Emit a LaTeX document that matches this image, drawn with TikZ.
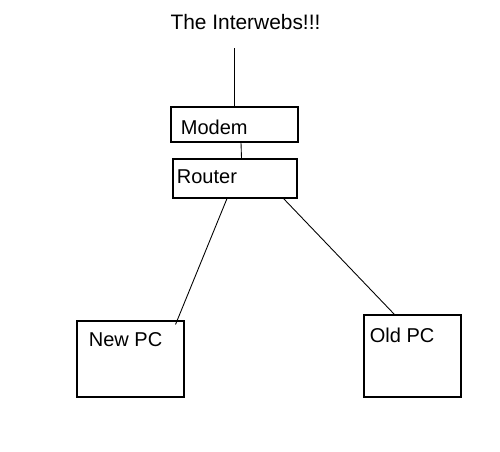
\documentclass[tikz,border=0pt]{standalone}
\usepackage{fontspec}
\setmainfont{Liberation Sans}
\usetikzlibrary{calc,positioning}
\tikzset{
  box/.style={draw=black,line width=0.6pt,minimum width=#1,inner sep=0pt},
  lbl/.style={anchor=base west,inner sep=0pt,font=\fontsize{11.4}{13}\selectfont},
  wire/.style={draw=black,line width=0.5pt},
}
\begin{document}
\begin{tikzpicture}[x=0.02cm,y=-0.02cm]
  \useasboundingbox[fill=white] (0,0) rectangle (500,451);
  \node[lbl,anchor=base,font=\fontsize{11.9}{14}\selectfont] (web) at (245.5,29) {The Interwebs!!!};
  % boxes
  \node[box=2.54cm,minimum height=0.70cm] (modem) at (234.5,124.5) {};
  \node[box=2.48cm,minimum height=0.78cm] (router) at (235,178.5) {};
  \node[box=2.14cm,minimum height=1.52cm] (newpc) at (130.5,359) {};
  \node[box=1.94cm,minimum height=1.64cm] (oldpc) at (412.5,356) {};
  % texts
  \node[lbl] (modemtxt) at ($(modem.north west)+(10,28)$) {Modem};
  \node[lbl] (routertxt) at ($(router.north west)+(4,25)$) {Router};
  \node[lbl] (newpctxt) at ($(newpc.north west)+(12,26)$) {New PC};
  \node[lbl] (oldpctxt) at ($(oldpc.north west)+(6,28)$) {Old PC};
  % wires
  \draw[wire] ($(web.base -| modem.north)+(0,19)$) -- (modem.north);
  \draw[wire] ($(modem.south)+(6.5,0)$) -- ($(router.north)+(6.5,0)$);
  \draw[wire] ($(router.south)+(-8,0)$) -- ($(newpc.north east)+(-9,4)$);
  \draw[wire] ($(router.south east)+(-14,0)$) -- ($(oldpc.north west)+(31,0)$);
\end{tikzpicture}
\end{document}
